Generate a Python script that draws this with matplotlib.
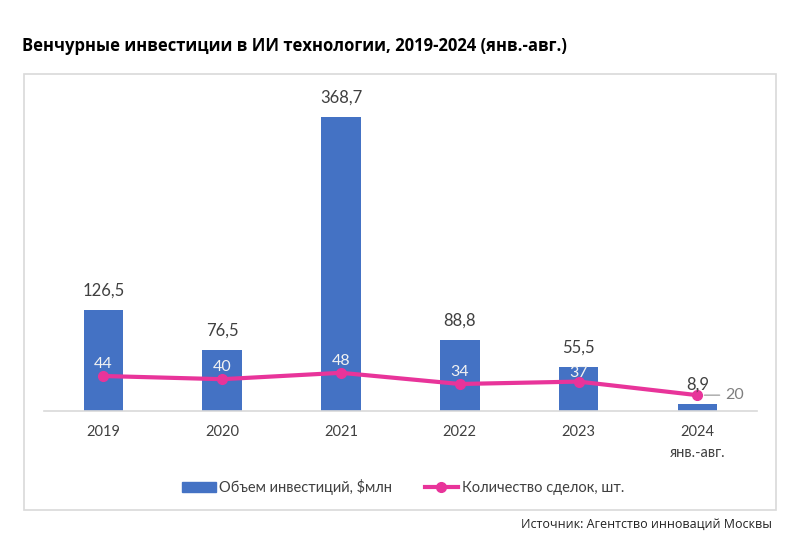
import matplotlib.pyplot as plt
from matplotlib.patches import Rectangle
import numpy as np

years = ['2019', '2020', '2021', '2022', '2023', '2024\nянв.-авг.']
invest = [126.5, 76.5, 368.7, 88.8, 55.5, 8.9]
deals = [44, 40, 48, 34, 37, 20]
invest_lbl = ['126,5', '76,5', '368,7', '88,8', '55,5', '8,9']

bar_col = '#4472C4'
line_col = '#E8349A'
txt_col = '#404040'

plt.rcParams['font.family'] = ['Lato', 'DejaVu Sans']

fig = plt.figure(figsize=(8, 5.46), dpi=100)
fig.patch.set_facecolor('white')

# chart frame
fig.patches.append(Rectangle((0.03, 0.066), 0.94, 0.7985, transform=fig.transFigure,
                             fill=False, edgecolor='#d9d9d9', linewidth=1.2))

ax = fig.add_axes([0.055, 0.247, 0.891, 0.585])
x = np.arange(len(years))
ax.bar(x, invest, width=0.335, color=bar_col, zorder=2)
ax.plot(x, deals, color=line_col, linewidth=3, marker='o', markersize=7, zorder=3)

for i in range(len(x)):
    ax.annotate(invest_lbl[i], (x[i], invest[i]), xytext=(0, 8), textcoords='offset points',
                ha='center', va='bottom', fontsize=12, color=txt_col)
# deal labels (offsets in points, like excel places them)
dy = [3.5, 3.5, 3.5, 3.5, 1]
for i in range(len(x) - 1):
    ax.annotate(str(deals[i]), (x[i], deals[i]), xytext=(0, dy[i]), textcoords='offset points',
                ha='center', va='bottom', fontsize=11.5, color='#f2f2f2', zorder=4)
# last deals label sits to the right with a leader line
ax.annotate(str(deals[-1]), (x[-1], deals[-1]), xytext=(20, 0), textcoords='offset points',
            ha='left', va='center', fontsize=11.5, color='#7f7f7f',
            arrowprops=dict(arrowstyle='-', color='#a6a6a6', lw=1, shrinkA=2, shrinkB=5))

ax.set_xlim(-0.5, 5.5)
ax.set_ylim(0, 400)
ax.set_yticks([])
ax.set_xticks(x)
ax.set_xticklabels(years, fontsize=10.5, color=txt_col, linespacing=1.6)
ax.tick_params(axis='x', length=0, pad=10)
for s in ['top', 'right', 'left']:
    ax.spines[s].set_visible(False)
ax.spines['bottom'].set_color('#d9d9d9')
ax.spines['bottom'].set_linewidth(1.2)
ax.set_facecolor('none')

h1 = plt.Rectangle((0, 0), 1, 1, color=bar_col)
h2, = ax.plot([], [], color=line_col, linewidth=3, marker='o', markersize=7)
fig.legend([h1, h2], ['Объем инвестиций, $млн', 'Количество сделок, шт.'],
           loc='center', bbox_to_anchor=(0.504, 0.108), ncol=2, frameon=False,
           fontsize=10.5, handlelength=2.3, handletextpad=0.25, columnspacing=2.2,
           labelcolor=txt_col)

fig.text(0.028, 0.915, 'Венчурные инвестиции в ИИ технологии, 2019-2024 (янв.-авг.)',
         fontsize=12, fontweight='bold', family=['Open Sans', 'DejaVu Sans'], color='black',
         va='center')
fig.text(0.965, 0.04, 'Источник: Агентство инноваций Москвы', fontsize=9,
         family=['Open Sans', 'DejaVu Sans'], color='#222222', ha='right', va='center')

fig.savefig('out.png', dpi=100, facecolor='white')
